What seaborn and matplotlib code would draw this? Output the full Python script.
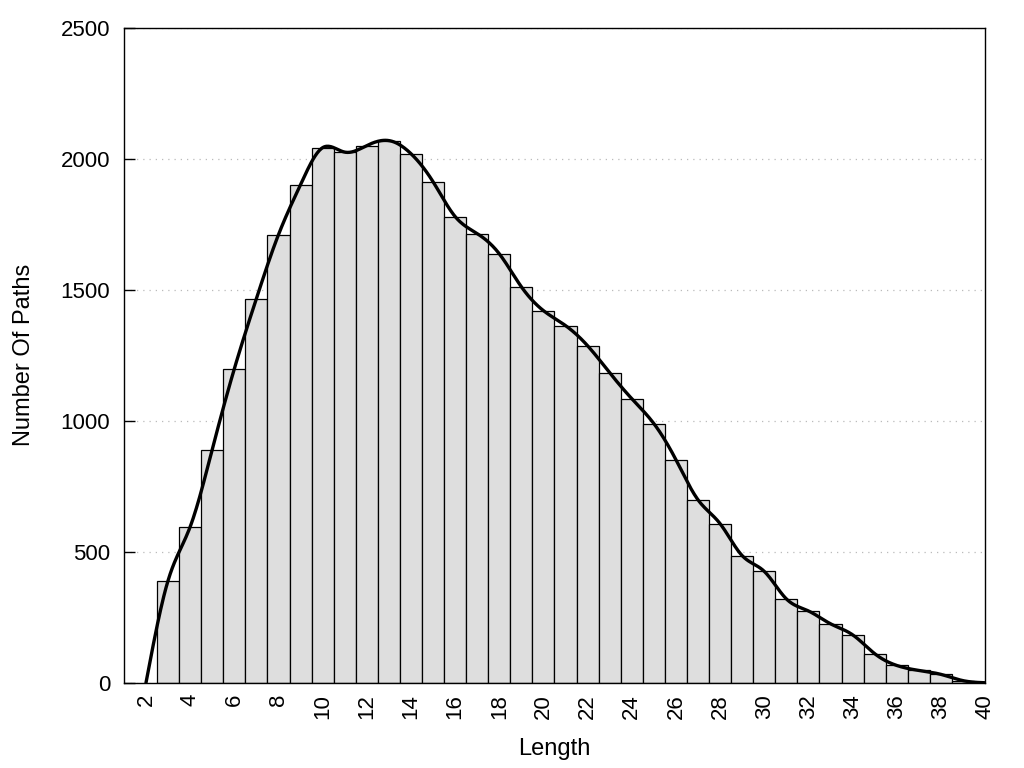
import matplotlib
matplotlib.use("Agg")
import matplotlib.pyplot as plt
import seaborn as sns
import numpy as np

# ---- data ----
lengths = [2, 3, 4, 5, 6, 7, 8, 9, 10, 11, 12, 13, 14, 15, 16, 17, 18, 19, 20,
           21, 22, 23, 24, 25, 26, 27, 28, 29, 30, 31, 32, 33, 34, 35, 36, 37,
           38, 39, 40]
path_counts = [0, 390, 595, 890, 1198, 1466, 1710, 1901, 2042, 2025, 2050, 2069,
               2019, 1912, 1779, 1714, 1637, 1511, 1420, 1363, 1286, 1183, 1084,
               989, 851, 698, 607, 485, 425, 320, 274, 225, 183, 111, 66, 47, 32,
               8, 0]
x_ticks = list(range(2, 41, 2))
y_ticks = [0, 500, 1000, 1500, 2000, 2500]


def natural_spline(x, y, n=800):
    # natural cubic spline through the points (smooth curve like the original)
    x = np.asarray(x, float)
    y = np.asarray(y, float)
    k = len(x)
    h = np.diff(x)
    A = np.zeros((k, k))
    b = np.zeros(k)
    A[0, 0] = A[-1, -1] = 1
    for i in range(1, k - 1):
        A[i, i - 1] = h[i - 1]
        A[i, i] = 2 * (h[i - 1] + h[i])
        A[i, i + 1] = h[i]
        b[i] = 3 * ((y[i + 1] - y[i]) / h[i] - (y[i] - y[i - 1]) / h[i - 1])
    c = np.linalg.solve(A, b)
    xs = np.linspace(x[0], x[-1], n)
    idx = np.clip(np.searchsorted(x, xs) - 1, 0, k - 2)
    dx = xs - x[idx]
    bb = (y[idx + 1] - y[idx]) / h[idx] - h[idx] * (2 * c[idx] + c[idx + 1]) / 3
    dd = (c[idx + 1] - c[idx]) / (3 * h[idx])
    ys = y[idx] + bb * dx + c[idx] * dx ** 2 + dd * dx ** 3
    return xs, ys


sns.set_style("white")
plt.rcParams["font.family"] = ["Liberation Sans", "DejaVu Sans"]
plt.rcParams["text.color"] = "black"
plt.rcParams["axes.labelcolor"] = "black"
plt.rcParams["xtick.color"] = "black"
plt.rcParams["ytick.color"] = "black"

fig = plt.figure(figsize=(10.24, 7.68), dpi=100)
ax = fig.add_axes([0.121, 0.111, 0.841, 0.853])

bar_x = lengths[1:-1]
bar_y = path_counts[1:-1]
sns.histplot(x=bar_x, weights=bar_y, discrete=True, ax=ax, color="#dedede",
             alpha=1, edgecolor="black", linewidth=0.9, zorder=2)

xs, ys = natural_spline(lengths, path_counts)
sns.lineplot(x=xs, y=ys, ax=ax, color="black", linewidth=2.4, zorder=3)

ax.set_xlim(1, 40)
ax.set_ylim(0, 2500)
ax.set_xticks(x_ticks)
ax.set_yticks(y_ticks)
ax.tick_params(axis="x", labelsize=16, rotation=90, length=0, pad=8, colors="black")
ax.tick_params(axis="y", labelsize=16, direction="in", length=8, width=1, left=True,
               pad=10, colors="black")
ax.yaxis.grid(True, linestyle=(0, (1, 4)), color="#bbbbbb", linewidth=0.9, zorder=0)
ax.set_axisbelow(True)
for s in ax.spines.values():
    s.set_color("black")
    s.set_linewidth(1)

ax.set_xlabel("Length", fontsize=17, labelpad=14, color="black")
ax.set_ylabel("Number Of Paths", fontsize=17, labelpad=18, color="black")

fig.savefig("out.png", dpi=100)
